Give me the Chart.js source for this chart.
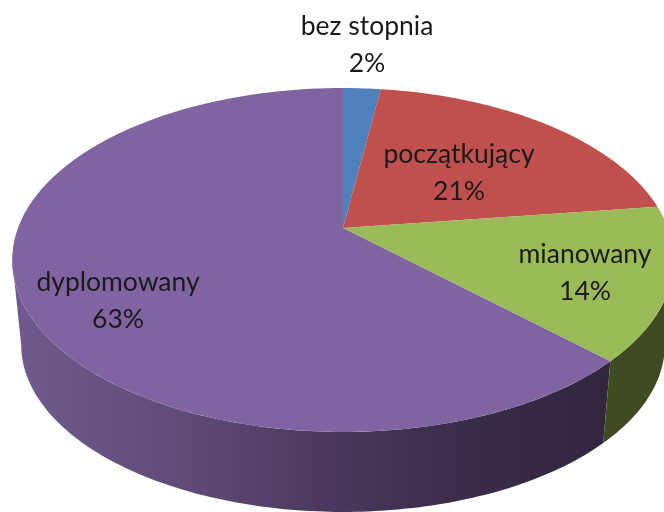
<!DOCTYPE html>
<html>
<head>
<meta charset="utf-8">
<style>
html, body { margin: 0; padding: 0; background: #fff; overflow: hidden; }
canvas { display: block; }
</style>
<script src="https://cdn.jsdelivr.net/npm/chart.js@4"></script>
</head>
<body>
<canvas id="myChart" width="664" height="512"></canvas>
<script>
// data (labels show them rounded)
const categories = ['bez stopnia', 'początkujący', 'mianowany', 'dyplomowany'];
const shares = [2.2, 20.7, 14.4, 62.7];
const topColors = ['#4f81bd', '#c0504d', '#9bbb59', '#8064a2'];

// 3d look: perspective squash of the round pie
const view = { cx: 343, cy: 228, a: 325, b: 166, k: -0.186, depth: 85.5, shrink: 0.973 };

// centre of each label, same order as categories
const labelSpots = [[367, 26], [459, 154], [585, 254], [118, 282]];

// wall is only seen between the two widest points of the rim
const wallFrom = Math.asin(-view.k);
const wallTo = Math.PI - wallFrom;

function project(angle, low) {
    const u = Math.cos(angle);
    const v = Math.sin(angle);
    const w = 1 + view.k * v;
    const s = low ? view.shrink : 1;
    return [
        view.cx + s * view.a * u / w,
        view.cy + s * view.b * v / w + (low ? view.depth : 0)
    ];
}

function rim(ctx, from, to, low) {
    const steps = Math.max(2, Math.ceil(Math.abs(to - from) * 60));
    for (let i = 0; i <= steps; i++) {
        const p = project(from + (to - from) * i / steps, low);
        ctx.lineTo(p[0], p[1]);
    }
}

function sideFill(ctx, index) {
    if (index === 2) return '#404a22';
    const g = ctx.createLinearGradient(22, 0, 604, 0);
    g.addColorStop(0, '#6f5a8d');
    g.addColorStop(0.35, '#5a4672');
    g.addColorStop(0.5, '#4b3a5e');
    g.addColorStop(0.75, '#3a2c4a');
    g.addColorStop(1, '#32263f');
    return g;
}

const pie3d = {
    id: 'pie3d',
    beforeDatasetsDraw(chart) {
        const ctx = chart.ctx;
        const arcs = chart.getDatasetMeta(0).data;

        ctx.save();
        // side wall first
        [3, 2].forEach(i => {
            const from = Math.max(arcs[i].startAngle, wallFrom);
            const to = Math.min(arcs[i].endAngle, wallTo);
            ctx.beginPath();
            rim(ctx, from, to, false);
            rim(ctx, to, from, true);
            ctx.closePath();
            ctx.fillStyle = sideFill(ctx, i);
            ctx.fill();
        });

        // top face
        arcs.forEach((arc, i) => {
            ctx.beginPath();
            ctx.moveTo(view.cx, view.cy);
            rim(ctx, arc.startAngle, arc.endAngle, false);
            ctx.closePath();
            ctx.fillStyle = topColors[i];
            ctx.fill();
        });

        // labels
        ctx.font = '26.5px Lato';
        ctx.fillStyle = '#1a1a1a';
        ctx.textAlign = 'center';
        ctx.textBaseline = 'middle';
        categories.forEach((name, i) => {
            const spot = labelSpots[i];
            ctx.fillText(name, spot[0], spot[1]);
            ctx.fillText(Math.round(shares[i]) + '%', spot[0], spot[1] + 37);
        });
        ctx.restore();
        return false;
    }
};

const chartContext = document.getElementById('myChart').getContext('2d');

const chart = new Chart(chartContext, {
    type: 'pie',
    data: {
        labels: categories,
        datasets: [{
            data: shares,
            backgroundColor: topColors,
            borderWidth: 0
        }]
    },
    options: {
        responsive: false,
        animation: false,
        plugins: {
            legend: { display: false },
            tooltip: { enabled: false }
        }
    },
    plugins: [pie3d]
});
</script>
</body>
</html>
